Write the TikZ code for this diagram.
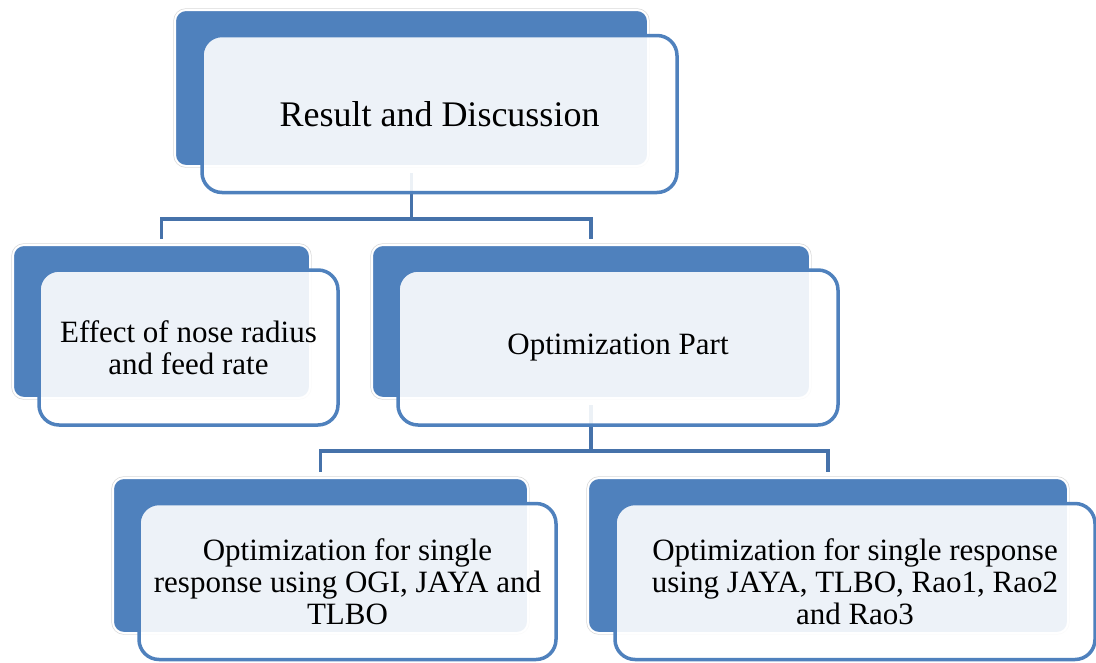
\documentclass[tikz,border=0pt]{standalone}
\usepackage{fontspec}
\setmainfont{Liberation Serif}
\usetikzlibrary{positioning,backgrounds}
\definecolor{boxblue}{HTML}{4F81BD}
\definecolor{linkblue}{HTML}{4672AA}

\begin{document}
\begin{tikzpicture}[x=1pt,y=-1pt,
  backbox/.style={rectangle,rounded corners=11pt,fill=boxblue,draw=white,line width=2pt,
    preaction={draw=black!15,line width=3.4pt},inner sep=0pt},
  frontbox/.style={rectangle,rounded corners=20pt,fill=white,fill opacity=0.9,text opacity=1,
    draw=boxblue,line width=3.5pt,align=center,inner sep=0pt,font=\fontsize{31}{32}\selectfont},
  link/.style={draw=linkblue,line width=3.5pt,shorten <=6pt,shorten >=5pt}]
  \useasboundingbox (0,0) rectangle (1096,662);

  % back boxes
  \foreach \n/\cx/\cy/\w/\h in {res/411.5/88/473/156, eff/161.5/321.5/297/153,
      opt/591/321.5/438/153, ogi/320.5/555.5/415/155, rao/828/555.5/480/155} {
    \node[backbox,minimum width=\w pt,minimum height=\h pt] (\n) at (\cx,\cy) {};
  }

  % front boxes with the texts
  \node[frontbox,minimum width=475pt,minimum height=157pt,font=\fontsize{36}{40}\selectfont]
    (res-f) at ([shift={(28,26)}]res.center) {Result and Discussion};
  \foreach \n/\w/\h/\txt in {eff/299/155/{Effect of nose radius\\and feed rate},
      opt/440/155/{Optimization Part},
      ogi/417/156/{Optimization for single\\response using OGI, JAYA and\\TLBO},
      rao/480/156/{Optimization for single response\\using JAYA, TLBO, Rao1, Rao2\\and Rao3}} {
    \node[frontbox,minimum width=\w pt,minimum height=\h pt] (\n-f) at ([shift={(27,26)}]\n.center) {\txt};
  }

  % connectors behind the boxes
  \begin{scope}[on background layer]
    \foreach \p/\c in {res/eff, res/opt, opt/ogi, opt/rao}
      \draw[link] (\p.south) -- ++(0,52) -| (\c.north);
  \end{scope}
\end{tikzpicture}
\end{document}
